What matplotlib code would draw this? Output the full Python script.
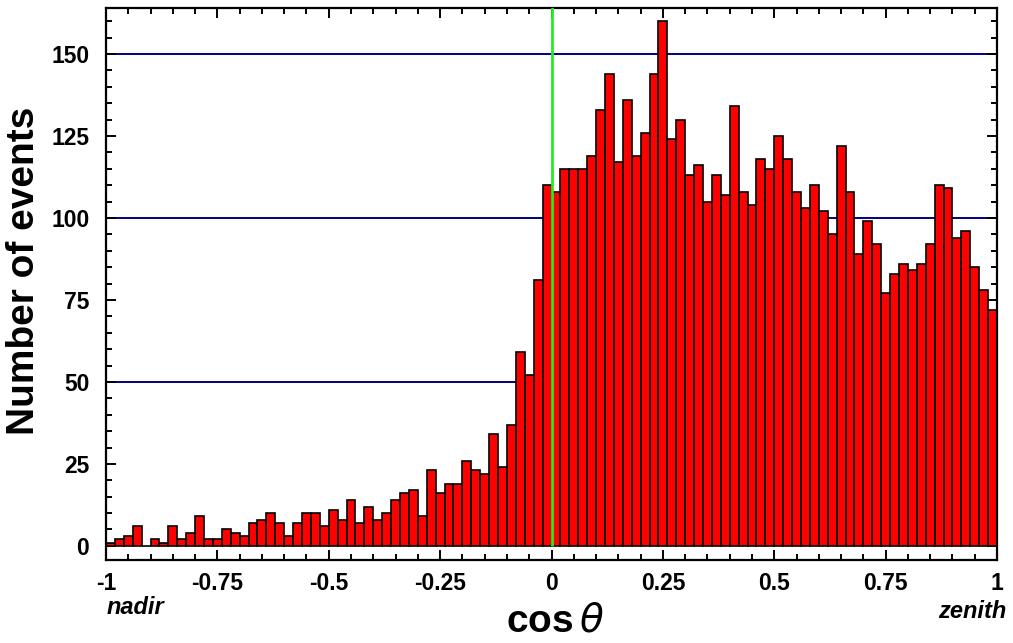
import numpy as np
import matplotlib
matplotlib.use("Agg")
import matplotlib.pyplot as plt
from matplotlib.ticker import MultipleLocator, FixedLocator

# ---- data ----
bin_lo, bin_hi, n_bins = -1.0, 1.0, 100
counts = [1, 2, 3, 6, 0, 2, 1, 6, 2, 4,
          9, 2, 2, 5, 4, 3, 7, 8, 10, 7,
          3, 7, 10, 10, 6, 11, 8, 14, 7, 12,
          8, 10, 14, 16, 17, 9, 23, 16, 19, 19,
          26, 23, 22, 34, 24, 37, 59, 52, 81, 110,
          108, 115, 115, 115, 119, 133, 144, 117, 136, 119,
          126, 144, 160, 124, 130, 113, 116, 105, 113, 107,
          134, 108, 104, 118, 115, 125, 118, 108, 103, 110,
          102, 95, 122, 108, 89, 99, 92, 77, 83, 86,
          84, 86, 92, 110, 109, 94, 96, 85, 78, 72]
xticks = [-1, -0.75, -0.5, -0.25, 0, 0.25, 0.5, 0.75, 1]
xticklabels = ["-1", "-0.75", "-0.5", "-0.25", "0", "0.25", "0.5", "0.75", "1"]
yticks = [0, 25, 50, 75, 100, 125, 150]
hlines = [50, 100, 150]

plt.rcParams['font.family'] = ['Liberation Sans', 'DejaVu Sans']

W, H = 1013, 643
fig = plt.figure(figsize=(W/100, H/100), dpi=100)
ax = fig.add_axes([106/W, 1-560/H, (997-106)/W, (560-8)/H])

edges = np.linspace(bin_lo, bin_hi, n_bins + 1)
width = edges[1] - edges[0]

for h in hlines:
    ax.axhline(h, color='#000080', lw=1.4, zorder=1)

ax.bar(edges[:-1], counts, width=width, align='edge', color='#ff0000',
       edgecolor='black', linewidth=1.2, zorder=2)

ax.vlines(0, 0, 170, color='#22ee22', lw=2, zorder=3)

ax.set_xlim(-1, 1)
ax.set_ylim(-4.3, 164)

ax.xaxis.set_major_locator(FixedLocator(xticks))
ax.set_xticklabels(xticklabels)
ax.xaxis.set_minor_locator(MultipleLocator(0.05))
ax.yaxis.set_major_locator(FixedLocator(yticks))
ax.yaxis.set_minor_locator(MultipleLocator(5))

ax.tick_params(which='both', direction='in', top=True, right=True, width=1.4)
ax.tick_params(which='major', length=7, labelsize=16.5)
ax.tick_params(axis='x', which='major', pad=9)
ax.tick_params(axis='y', which='major', pad=12)
ax.tick_params(which='minor', length=4)
for lab in ax.get_xticklabels() + ax.get_yticklabels():
    lab.set_fontweight('bold')
for s in ax.spines.values():
    s.set_linewidth(1.6)

fig.text(24/W, 1-271/H, "Number of events", fontsize=28, fontweight='bold',
         rotation=90, ha='center', va='center')
fig.text(555/W, 1-621/H, r"cos$\,\mathit{\theta}$", fontsize=28, fontweight='bold',
         ha='center', va='center')

fig.text(107/W, 1-608/H, "nadir", fontsize=17, fontweight='bold',
         style='italic', ha='left', va='center')
fig.text(1006/W, 1-612/H, "zenith", fontsize=17, fontweight='bold',
         style='italic', ha='right', va='center')

fig.savefig("out.png", dpi=100, facecolor='white')
